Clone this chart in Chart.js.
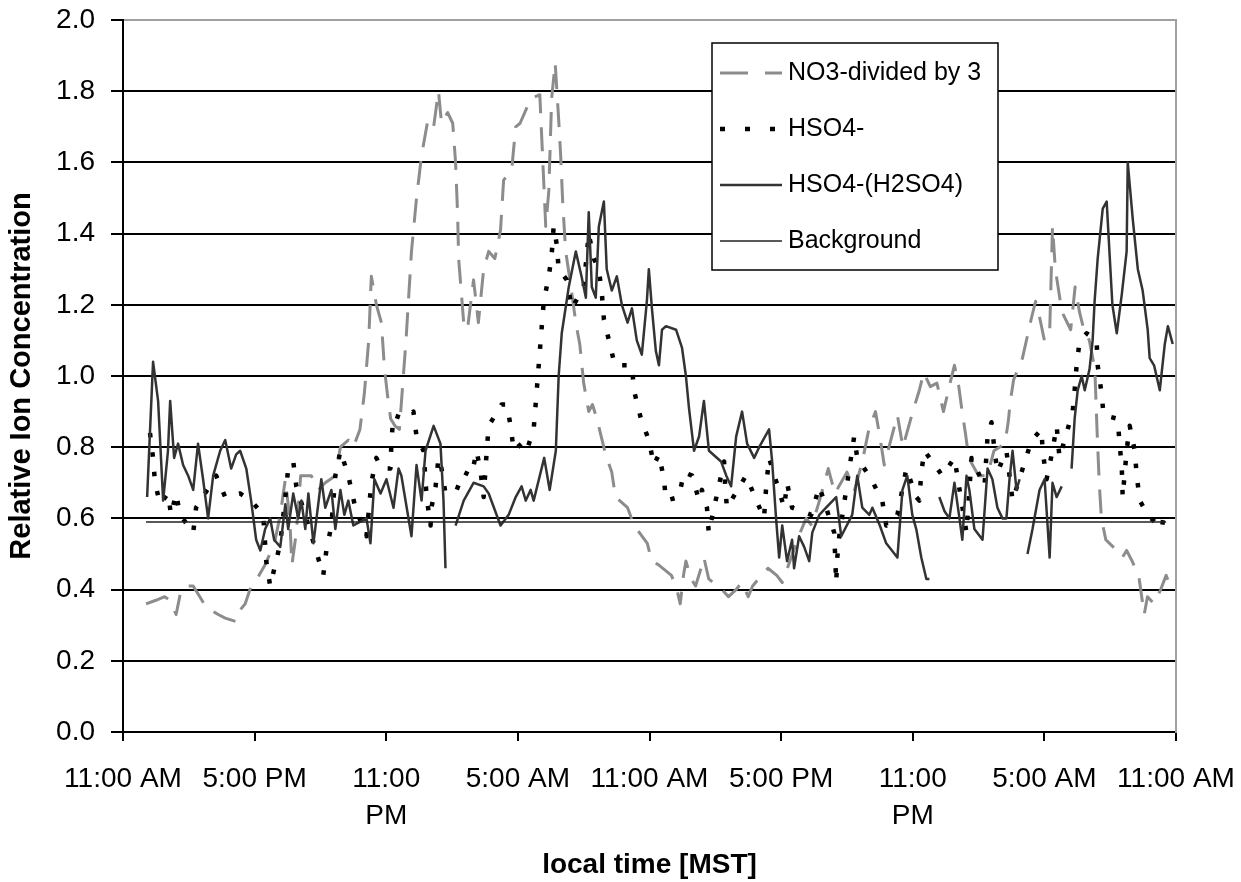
<!DOCTYPE html>
<html>
<head>
<meta charset="utf-8">
<script src="https://cdn.jsdelivr.net/npm/chart.js@4.4.1/dist/chart.umd.min.js"></script>
<style>
  html, body { margin: 0; padding: 0; background: #fff; }
  #wrap { width: 1241px; height: 882px; }
</style>
</head>
<body>
<div id="wrap"><canvas id="ionChart" width="1241" height="882"></canvas></div>
<script>
// x values are hours after the first 11:00 AM tick
const xTickLabels = ['11:00 AM', '5:00 PM', ['11:00', 'PM'], '5:00 AM', '11:00 AM', '5:00 PM', ['11:00', 'PM'], '5:00 AM', '11:00 AM'];

const no3Hours = [1.05, 1.5, 1.9, 2.15, 2.42, 2.65, 2.9, 3.2, 3.5, 3.8, 4.34, 4.66, 5.16, 5.3, 5.57, 5.84, 6.2, 6.48, 6.9, 7.17, 7.4, 7.6, 7.7, 7.9, 8.1, 8.58, 8.9, 9.22, 9.68, 9.91, 10.27, 10.5, 10.8, 11.0, 11.2, 11.32, 11.55, 11.78, 11.92, 12.05, 12.2, 12.4, 12.6, 12.9, 13.15, 13.38, 13.61, 13.9, 14.16, 14.38, 14.52, 14.8, 15.03, 15.16, 15.25, 15.3, 15.53, 15.7, 15.98, 16.2, 16.44, 16.67, 16.95, 17.21, 17.35, 17.72, 17.9, 18.1, 18.6, 19.0, 19.27, 19.41, 19.54, 19.7, 19.86, 19.95, 20.05, 20.18, 20.4, 20.64, 20.82, 21.0, 21.23, 21.4, 21.6, 21.8, 22.0, 22.28, 22.45, 23.0, 23.3, 23.9, 24.1, 24.4, 25.0, 25.25, 25.4, 25.55, 25.66, 25.9, 26.1, 26.3, 26.48, 26.7, 27.3, 27.6, 27.95, 28.2, 28.5, 28.7, 29.1, 29.4, 29.8, 30.05, 30.4, 30.8, 31.14, 31.4, 31.7, 32.15, 32.45, 33.0, 33.35, 33.7, 34.0, 34.3, 34.5, 34.7, 35.0, 35.3, 35.55, 36.0, 36.3, 36.5, 36.8, 37.1, 37.4, 37.7, 37.9, 38.1, 38.25, 38.4, 38.55, 39.0, 39.4, 39.7, 40.2, 40.35, 40.45, 40.6, 41.0, 41.4, 41.6, 41.8, 42.0, 42.24, 42.37, 42.5, 42.8, 43.2, 43.4, 43.6, 43.8, 44.05, 44.3, 44.4, 44.5, 44.6, 44.8, 45.3, 45.55, 45.75, 46.0, 46.3, 46.55, 46.7, 47.0, 47.3, 47.55, 47.8];
const no3Values = [0.36, 0.37, 0.38, 0.37, 0.33, 0.40, 0.41, 0.41, 0.38, 0.35, 0.33, 0.32, 0.31, 0.34, 0.36, 0.41, 0.44, 0.47, 0.53, 0.61, 0.71, 0.60, 0.47, 0.56, 0.72, 0.72, 0.68, 0.70, 0.72, 0.80, 0.82, 0.80, 0.85, 0.95, 1.10, 1.28, 1.20, 1.15, 1.02, 0.95, 0.88, 0.86, 0.85, 1.10, 1.35, 1.50, 1.62, 1.72, 1.70, 1.80, 1.71, 1.74, 1.71, 1.60, 1.46, 1.33, 1.15, 1.13, 1.27, 1.15, 1.30, 1.35, 1.33, 1.41, 1.55, 1.58, 1.70, 1.71, 1.78, 1.79, 1.42, 1.52, 1.78, 1.88, 1.72, 1.62, 1.48, 1.35, 1.26, 1.15, 1.09, 0.98, 0.90, 0.92, 0.88, 0.83, 0.78, 0.73, 0.66, 0.63, 0.58, 0.53, 0.48, 0.47, 0.44, 0.40, 0.36, 0.44, 0.48, 0.43, 0.41, 0.45, 0.49, 0.43, 0.40, 0.38, 0.40, 0.42, 0.38, 0.41, 0.44, 0.46, 0.44, 0.42, 0.48, 0.55, 0.60, 0.58, 0.64, 0.74, 0.67, 0.73, 0.68, 0.76, 0.85, 0.90, 0.83, 0.75, 0.82, 0.89, 0.80, 0.90, 0.96, 1.01, 0.97, 0.98, 0.90, 0.98, 1.03, 0.97, 0.90, 0.84, 0.77, 0.72, 0.72, 0.79, 0.81, 0.87, 0.93, 0.99, 1.05, 1.16, 1.21, 1.16, 1.10, 1.12, 1.42, 1.30, 1.18, 1.13, 1.25, 1.18, 1.13, 1.10, 1.02, 0.85, 0.70, 0.60, 0.54, 0.51, 0.49, 0.51, 0.48, 0.44, 0.33, 0.38, 0.36, 0.40, 0.44, 0.40];

const hso4Hours = [1.23, 1.37, 1.46, 1.69, 2.05, 2.19, 2.42, 2.6, 3.2, 3.33, 4.25, 4.66, 5.34, 5.84, 6.39, 6.53, 6.71, 7.17, 7.4, 7.53, 7.76, 7.9, 8.6, 9.13, 9.27, 9.5, 9.68, 9.91, 10.27, 10.59, 11.1, 11.32, 11.55, 11.78, 12.19, 12.24, 12.33, 12.8, 13.24, 13.38, 13.7, 13.84, 14.02, 14.06, 14.25, 14.38, 14.52, 14.7, 15.21, 15.53, 15.89, 16.12, 16.3, 16.44, 16.58, 16.67, 17.26, 17.49, 17.67, 17.81, 18.17, 18.4, 18.72, 19.18, 19.41, 19.54, 19.63, 19.77, 19.86, 20.23, 20.46, 21.0, 21.23, 21.46, 21.69, 21.83, 21.92, 22.19, 22.42, 23.2, 23.29, 23.61, 23.97, 24.2, 24.43, 24.66, 24.75, 25.34, 25.57, 25.94, 26.26, 26.39, 26.62, 26.7, 27.4, 27.45, 27.53, 28.4, 29.22, 29.32, 29.45, 30.14, 30.27, 30.5, 31.37, 31.74, 32.05, 32.42, 32.51, 32.56, 32.65, 33.33, 33.47, 34.11, 34.61, 34.79, 35.3, 35.71, 36.16, 36.3, 36.39, 36.53, 37.35, 37.9, 38.45, 38.68, 39.27, 39.41, 39.59, 39.73, 39.86, 40.27, 40.55, 41.42, 41.87, 41.92, 42.1, 42.37, 42.56, 42.69, 43.29, 43.38, 43.47, 43.61, 43.93, 44.38, 44.43, 44.61, 44.7, 45.34, 45.43, 45.53, 45.57, 45.75, 45.89, 46.12, 46.21, 46.35, 46.71, 47.35, 47.49];
const hso4Values = [0.84, 0.77, 0.70, 0.64, 0.67, 0.61, 0.67, 0.61, 0.56, 0.63, 0.72, 0.66, 0.67, 0.65, 0.61, 0.48, 0.41, 0.53, 0.66, 0.74, 0.76, 0.69, 0.55, 0.44, 0.51, 0.58, 0.72, 0.79, 0.72, 0.63, 0.55, 0.70, 0.77, 0.74, 0.74, 0.82, 0.89, 0.88, 0.90, 0.83, 0.79, 0.66, 0.58, 0.63, 0.69, 0.77, 0.74, 0.67, 0.68, 0.73, 0.72, 0.79, 0.73, 0.66, 0.79, 0.86, 0.92, 0.92, 0.86, 0.79, 0.81, 0.79, 0.85, 1.21, 1.28, 1.34, 1.42, 1.37, 1.30, 1.27, 1.19, 1.25, 1.40, 1.33, 1.30, 1.23, 1.16, 1.09, 1.03, 1.03, 0.96, 0.88, 0.82, 0.75, 0.78, 0.71, 0.65, 0.66, 0.73, 0.72, 0.65, 0.68, 0.63, 0.56, 0.76, 0.69, 0.63, 0.72, 0.60, 0.69, 0.77, 0.63, 0.70, 0.63, 0.61, 0.69, 0.63, 0.56, 0.42, 0.49, 0.55, 0.83, 0.77, 0.71, 0.65, 0.58, 0.61, 0.74, 0.66, 0.65, 0.73, 0.79, 0.72, 0.77, 0.56, 0.77, 0.69, 0.83, 0.87, 0.79, 0.73, 0.79, 0.65, 0.82, 0.85, 0.79, 0.71, 0.79, 0.86, 0.77, 0.90, 0.96, 1.03, 1.10, 1.12, 1.10, 1.03, 0.95, 0.89, 0.88, 0.81, 0.74, 0.66, 0.79, 0.86, 0.79, 0.72, 0.65, 0.61, 0.57, 0.63];

const h2so4Hours = [1.1, 1.37, 1.6, 1.83, 2.05, 2.15, 2.33, 2.51, 2.74, 2.97, 3.2, 3.42, 3.65, 3.88, 4.11, 4.43, 4.66, 4.93, 5.16, 5.34, 5.62, 5.84, 6.07, 6.26, 6.48, 6.71, 6.89, 7.17, 7.4, 7.53, 7.76, 7.99, 8.13, 8.31, 8.45, 8.68, 9.04, 9.22, 9.5, 9.68, 9.91, 10.09, 10.27, 10.5, 11.1, 11.28, 11.46, 11.74, 12.01, 12.33, 12.56, 12.69, 13.15, 13.38, 13.61, 13.79, 14.16, 14.47, 14.61, 14.7, 14.9, 15.16, 15.53, 15.98, 16.44, 16.67, 17.21, 17.58, 17.9, 18.17, 18.36, 18.58, 18.72, 19.2, 19.45, 19.73, 19.86, 20.0, 20.32, 20.64, 20.9, 21.1, 21.23, 21.37, 21.55, 21.69, 21.92, 22.05, 22.28, 22.51, 22.74, 23.0, 23.2, 23.42, 23.65, 23.88, 23.97, 24.11, 24.29, 24.43, 24.57, 24.75, 25.21, 25.48, 25.66, 25.8, 26.03, 26.26, 26.48, 26.71, 27.26, 27.5, 27.72, 27.95, 28.22, 28.45, 28.77, 29.0, 29.45, 29.59, 29.77, 29.91, 30.05, 30.27, 30.5, 30.59, 30.82, 31.05, 31.28, 31.42, 31.74, 32.05, 32.51, 32.74, 33.24, 33.47, 33.7, 34.02, 34.16, 34.5, 34.79, 35.3, 35.53, 35.75, 35.98, 36.16, 36.39, 36.62, 36.76, 37.0, 37.21, 37.45, 37.67, 37.9, 38.13, 38.26, 38.45, 38.58, 38.81, 39.18, 39.41, 39.63, 39.86, 40.09, 40.27, 40.41, 40.55, 40.73, 40.87, 41.05, 41.23, 41.46, 41.78, 42.01, 42.24, 42.37, 42.56, 42.79, 43.0, 43.24, 43.38, 43.52, 43.7, 43.84, 44.06, 44.2, 44.29, 44.43, 44.66, 44.84, 45.1, 45.3, 45.53, 45.75, 45.8, 46.03, 46.26, 46.48, 46.71, 46.8, 47.0, 47.26, 47.49, 47.63, 47.85];
const h2so4Values = [0.66, 1.04, 0.93, 0.65, 0.79, 0.93, 0.77, 0.81, 0.75, 0.72, 0.68, 0.81, 0.71, 0.60, 0.72, 0.79, 0.82, 0.74, 0.78, 0.79, 0.74, 0.65, 0.54, 0.51, 0.57, 0.60, 0.54, 0.52, 0.64, 0.57, 0.67, 0.60, 0.65, 0.57, 0.67, 0.53, 0.71, 0.63, 0.68, 0.57, 0.68, 0.61, 0.65, 0.58, 0.60, 0.53, 0.71, 0.67, 0.71, 0.63, 0.74, 0.72, 0.55, 0.75, 0.65, 0.79, 0.86, 0.81, 0.65, 0.46, null, 0.58, 0.65, 0.70, 0.69, 0.67, 0.58, 0.61, 0.66, 0.69, 0.65, 0.68, 0.65, 0.77, 0.68, 0.79, 1.00, 1.12, 1.25, 1.35, 1.28, 1.22, 1.46, 1.25, 1.22, 1.42, 1.49, 1.30, 1.24, 1.28, 1.20, 1.15, 1.19, 1.10, 1.06, 1.21, 1.30, 1.19, 1.07, 1.03, 1.13, 1.14, 1.13, 1.08, 1.00, 0.91, 0.79, 0.83, 0.93, 0.79, 0.76, 0.72, 0.69, 0.83, 0.90, 0.81, 0.77, 0.80, 0.85, 0.76, 0.60, 0.49, 0.58, 0.48, 0.54, 0.46, 0.55, 0.52, 0.48, 0.56, 0.61, 0.63, 0.66, 0.55, 0.61, 0.72, 0.63, 0.61, 0.63, 0.58, 0.53, 0.49, 0.68, 0.72, 0.61, 0.57, 0.49, 0.43, 0.43, null, 0.66, 0.62, 0.60, 0.70, 0.60, 0.54, 0.72, 0.68, 0.57, 0.54, 0.74, 0.71, 0.63, 0.60, 0.60, 0.71, 0.79, 0.68, 0.71, null, 0.50, 0.57, 0.68, 0.71, 0.49, 0.70, 0.66, 0.69, null, 0.74, 0.88, 0.96, 1.00, 0.96, 1.02, 1.10, 1.21, 1.33, 1.47, 1.49, 1.20, 1.12, 1.23, 1.35, 1.60, 1.44, 1.30, 1.24, 1.13, 1.05, 1.03, 0.96, 1.09, 1.14, 1.09];

const backgroundHours = [1.05, 47.55];
const backgroundValues = [0.59, 0.59];

const seriesNames = ['NO3-divided by 3', 'HSO4-', 'HSO4-(H2SO4)', 'Background'];

const toPoints = (hours, values) => hours.map((h, i) => ({ x: h, y: values[i] }));

const FONT = "'Liberation Sans', Arial, sans-serif";

// legend drawn as a framed box inside the plot, like the original
const boxLegend = {
    id: 'boxLegend',
    afterDraw(chart, args, opts) {
        const { ctx } = chart;
        ctx.save();
        ctx.fillStyle = '#fff';
        ctx.fillRect(opts.left, opts.top, opts.width, opts.height);
        ctx.strokeStyle = '#000';
        ctx.lineWidth = 1.5;
        ctx.strokeRect(opts.left, opts.top, opts.width, opts.height);
        ctx.font = `25px ${FONT}`;
        ctx.textBaseline = 'middle';
        chart.data.datasets.forEach((ds, i) => {
            const y = opts.top + opts.firstRow + i * opts.rowGap;
            ctx.strokeStyle = ds.borderColor;
            ctx.lineWidth = ds.borderWidth;
            ctx.setLineDash(ds.legendDash || []);
            ctx.beginPath();
            ctx.moveTo(opts.left + 8, y);
            ctx.lineTo(opts.left + 70, y);
            ctx.stroke();
            ctx.setLineDash([]);
            ctx.fillStyle = '#000';
            ctx.fillText(ds.label, opts.left + 76, y);
        });
        ctx.restore();
    }
};

new Chart(document.getElementById('ionChart'), {
    type: 'line',
    data: {
        datasets: [
            {
                label: seriesNames[0],
                data: toPoints(no3Hours, no3Values),
                borderColor: '#8c8c8c',
                borderWidth: 3,
                borderDash: [24, 14],
                legendDash: [28, 17],
                order: 4,
            },
            {
                label: seriesNames[1],
                data: toPoints(hso4Hours, hso4Values),
                borderColor: '#000',
                borderWidth: 4.5,
                borderDash: [4.5, 15],
                legendDash: [5, 20],
                order: 3,
            },
            {
                label: seriesNames[2],
                data: toPoints(h2so4Hours, h2so4Values),
                borderColor: '#333',
                borderWidth: 2.5,
                order: 2,
            },
            {
                label: seriesNames[3],
                data: toPoints(backgroundHours, backgroundValues),
                borderColor: '#222',
                borderWidth: 1.5,
                order: 1,
            },
        ]
    },
    options: {
        responsive: false,
        animation: false,
        spanGaps: false,
        layout: { padding: { top: 20, left: 0, right: 0, bottom: 0 } },
        elements: {
            point: { radius: 0 },
            line: { tension: 0, borderJoinStyle: 'round' },
        },
        plugins: {
            legend: { display: false },
            tooltip: { enabled: false },
            boxLegend: { left: 712, top: 43, width: 286, height: 227, firstRow: 30, rowGap: 56 },
        },
        scales: {
            x: {
                type: 'linear',
                min: 0,
                max: 48,
                afterFit: (scale) => {
                    scale.height = 150;
                    scale.paddingLeft = 0;
                    scale.paddingRight = 0;
                },
                afterBuildTicks: (scale) => {
                    scale.ticks = xTickLabels.map((_, i) => ({ value: i * 6 }));
                },
                ticks: {
                    autoSkip: false,
                    maxRotation: 0,
                    padding: 19,
                    color: '#000',
                    font: { family: FONT, size: 28, lineHeight: 1.35 },
                    callback: (value, index) => xTickLabels[index],
                },
                grid: { drawOnChartArea: false, tickLength: 9, color: '#000', lineWidth: 2 },
                border: { color: '#000', width: 2 },
                title: {
                    display: true,
                    text: 'local time [MST]',
                    color: '#000',
                    font: { family: FONT, size: 28, weight: 'bold' },
                    padding: { top: 0, bottom: 0 },
                },
            },
            y: {
                min: 0,
                max: 2,
                afterFit: (scale) => {
                    scale.width = 123;
                    scale.paddingTop = 0;
                    scale.paddingBottom = 0;
                },
                ticks: {
                    stepSize: 0.2,
                    padding: 16,
                    color: '#000',
                    font: { family: FONT, size: 28 },
                    callback: (value) => value.toFixed(1),
                },
                grid: {
                    color: (c) => (c.tick && c.tick.value >= 2 ? '#a0a0a0' : '#000'),
                    tickColor: '#000',
                    lineWidth: 2,
                    tickLength: 12,
                },
                border: { color: '#000', width: 2 },
                title: {
                    display: true,
                    text: 'Relative Ion Concentration',
                    color: '#000',
                    font: { family: FONT, size: 29, weight: 'bold' },
                    padding: { top: 5, bottom: 0 },
                },
            },
            frame: {
                position: 'right',
                min: 0,
                max: 2,
                afterFit: (scale) => {
                    scale.width = 65;
                    scale.paddingTop = 0;
                    scale.paddingBottom = 0;
                },
                ticks: { display: false },
                grid: { display: false },
                border: { color: '#a0a0a0', width: 2 },
            },
        }
    },
    plugins: [boxLegend]
});
</script>
</body>
</html>
